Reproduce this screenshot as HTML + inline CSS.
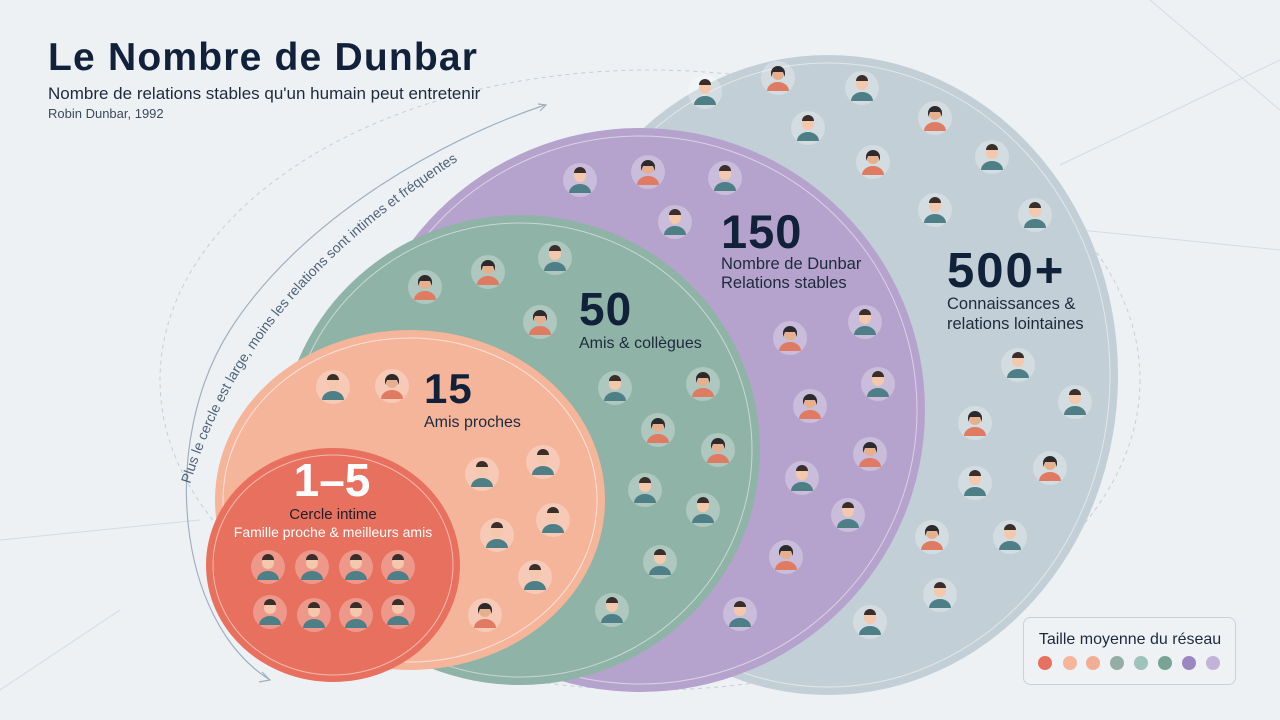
<!DOCTYPE html>
<html><head><meta charset="utf-8"><style>
body{margin:0;width:1280px;height:720px;overflow:hidden;background:#eef1f4;font-family:"Liberation Sans",sans-serif}
svg{position:absolute;left:0;top:0}
</style></head><body>
<svg width="1280" height="720" viewBox="0 0 1280 720" xmlns="http://www.w3.org/2000/svg">
<defs>
<g id="av"><circle r="17" fill="#ffffff" fill-opacity="0.28"/><circle cx="0" cy="-4" r="6" fill="#f3c8ad"/><path d="M-6,-7 a6,6 0 0 1 12,0 z" fill="#3a2e2a"/><path d="M-11,13 a11,9 0 0 1 22,0 z" fill="#4f7f86"/></g>
<g id="av2"><circle r="17" fill="#ffffff" fill-opacity="0.28"/><circle cx="0" cy="-4" r="6" fill="#e6b08f"/><path d="M-7,-5 a7,7 0 0 1 14,0 l0,4 l-2,-5 l-10,0 l-2,5z" fill="#2d2a2e"/><path d="M-11,13 a11,9 0 0 1 22,0 z" fill="#e07b63"/></g>
<path id="tp" d="M190,484 C220,390 280,270 475,150"/>
</defs>
<g stroke="#c9d2da" stroke-width="1" fill="none" opacity="0.7">
<line x1="1150" y1="0" x2="1280" y2="110"/><line x1="1060" y1="165" x2="1280" y2="60"/><line x1="1080" y1="230" x2="1280" y2="250"/><line x1="0" y1="540" x2="200" y2="520"/><line x1="0" y1="690" x2="120" y2="610"/>
</g>
<ellipse cx="650" cy="380" rx="490" ry="310" fill="none" stroke="#c5ced6" stroke-dasharray="4 4"/>
<ellipse cx="828" cy="375" rx="290" ry="320" fill="#c3cfd6"/>
<ellipse cx="828" cy="375" rx="282" ry="312" fill="none" stroke="#fff" stroke-opacity=".5"/>
<ellipse cx="640" cy="410" rx="285" ry="282" fill="#b6a3cd"/>
<ellipse cx="640" cy="410" rx="277" ry="274" fill="none" stroke="#fff" stroke-opacity=".5"/>
<ellipse cx="520" cy="450" rx="240" ry="235" fill="#8fb3a7"/>
<ellipse cx="520" cy="450" rx="232" ry="227" fill="none" stroke="#fff" stroke-opacity=".5"/>
<ellipse cx="410" cy="500" rx="195" ry="170" fill="#f4b59b"/>
<ellipse cx="410" cy="500" rx="187" ry="162" fill="none" stroke="#fff" stroke-opacity=".6"/>
<ellipse cx="333" cy="565" rx="127" ry="117" fill="#e8705f"/>
<ellipse cx="333" cy="565" rx="120" ry="110" fill="none" stroke="#fff" stroke-opacity=".5"/>
<path d="M270,680 C175,620 160,440 230,330 C300,220 440,140 545,105" fill="none" stroke="#9fb0bf" stroke-width="1.2"/>
<path d="M262,672 l8,8 l-11,2 M538,104 l8,1 l-6,6" fill="none" stroke="#9fb0bf" stroke-width="1.2"/>
<text font-size="14" fill="#4f6378"><textPath href="#tp">Plus le cercle est large, moins les relations sont intimes et fréquentes</textPath></text>
<g>
<use href="#av" x="705" y="92"/><use href="#av2" x="778" y="78"/><use href="#av" x="862" y="88"/><use href="#av" x="808" y="128"/><use href="#av2" x="935" y="118"/><use href="#av2" x="873" y="162"/><use href="#av" x="992" y="157"/><use href="#av" x="935" y="210"/><use href="#av" x="1035" y="215"/><use href="#av" x="1018" y="365"/><use href="#av" x="1075" y="402"/><use href="#av2" x="975" y="423"/><use href="#av2" x="1050" y="468"/><use href="#av" x="975" y="483"/><use href="#av2" x="932" y="537"/><use href="#av" x="1010" y="537"/><use href="#av" x="940" y="595"/><use href="#av" x="870" y="622"/>
<use href="#av" x="580" y="180"/><use href="#av2" x="648" y="172"/><use href="#av" x="725" y="178"/><use href="#av" x="675" y="222"/><use href="#av2" x="790" y="338"/><use href="#av" x="865" y="322"/><use href="#av2" x="810" y="406"/><use href="#av" x="878" y="384"/><use href="#av2" x="870" y="454"/><use href="#av" x="802" y="478"/><use href="#av" x="848" y="515"/><use href="#av2" x="786" y="557"/><use href="#av" x="740" y="614"/>
<use href="#av" x="555" y="258"/><use href="#av2" x="488" y="272"/><use href="#av2" x="425" y="287"/><use href="#av2" x="540" y="322"/><use href="#av" x="615" y="388"/><use href="#av2" x="703" y="384"/><use href="#av2" x="658" y="430"/><use href="#av2" x="718" y="450"/><use href="#av" x="645" y="490"/><use href="#av" x="703" y="510"/><use href="#av" x="660" y="562"/><use href="#av" x="612" y="610"/>
<use href="#av" x="333" y="387"/><use href="#av2" x="392" y="386"/><use href="#av" x="482" y="474"/><use href="#av" x="543" y="462"/><use href="#av" x="497" y="535"/><use href="#av" x="553" y="520"/><use href="#av" x="535" y="577"/><use href="#av2" x="485" y="615"/>
<use href="#av" x="268" y="567"/><use href="#av" x="312" y="567"/><use href="#av" x="356" y="567"/><use href="#av" x="398" y="567"/><use href="#av" x="270" y="612"/><use href="#av" x="314" y="615"/><use href="#av" x="356" y="615"/><use href="#av" x="398" y="612"/>
</g>
<text x="48" y="70" font-size="39" font-weight="bold" fill="#12213a" letter-spacing="1.2">Le Nombre de Dunbar</text>
<text x="48" y="99" font-size="17" fill="#1d2a3c">Nombre de relations stables qu'un humain peut entretenir</text>
<text x="48" y="118" font-size="13" fill="#3d4a5c">Robin Dunbar, 1992</text>
<text x="332" y="496" font-size="46" font-weight="bold" fill="#fff" text-anchor="middle">1–5</text>
<text x="333" y="519" font-size="15" fill="#1f1f28" text-anchor="middle">Cercle intime</text>
<text x="333" y="537" font-size="14" fill="#fff" text-anchor="middle">Famille proche &amp; meilleurs amis</text>
<text x="424" y="403" font-size="42" font-weight="bold" fill="#12213a" letter-spacing="1">15</text>
<text x="424" y="427" font-size="16" fill="#1d2a3c">Amis proches</text>
<text x="579" y="325" font-size="46" font-weight="bold" fill="#12213a" letter-spacing="1">50</text>
<text x="579" y="348" font-size="16" fill="#1d2a3c">Amis &amp; collègues</text>
<text x="721" y="248" font-size="47" font-weight="bold" fill="#12213a" letter-spacing="1">150</text>
<text x="721" y="269" font-size="16.5" fill="#1d2a3c">Nombre de Dunbar</text>
<text x="721" y="288" font-size="16.5" fill="#1d2a3c">Relations stables</text>
<text x="947" y="287" font-size="49" font-weight="bold" fill="#12213a" letter-spacing="2">500+</text>
<text x="947" y="309" font-size="16.5" fill="#1d2a3c">Connaissances &amp;</text>
<text x="947" y="329" font-size="16.5" fill="#1d2a3c">relations lointaines</text>
<rect x="1023.5" y="617.5" width="212" height="67" rx="7" fill="#eff2f5" stroke="#c8d0d8"/>
<text x="1130" y="644" font-size="16" fill="#1d2a3c" text-anchor="middle">Taille moyenne du réseau</text>
<g><circle cx="1045" cy="663" r="7" fill="#e8705f"/><circle cx="1070" cy="663" r="7" fill="#f4b59b"/><circle cx="1093" cy="663" r="7" fill="#f2ae94"/><circle cx="1117" cy="663" r="7" fill="#94ada5"/><circle cx="1141" cy="663" r="7" fill="#9fc2ba"/><circle cx="1165" cy="663" r="7" fill="#79a394"/><circle cx="1189" cy="663" r="7" fill="#9b88c0"/><circle cx="1213" cy="663" r="7" fill="#c3b3d9"/></g>
</svg>
</body></html>
